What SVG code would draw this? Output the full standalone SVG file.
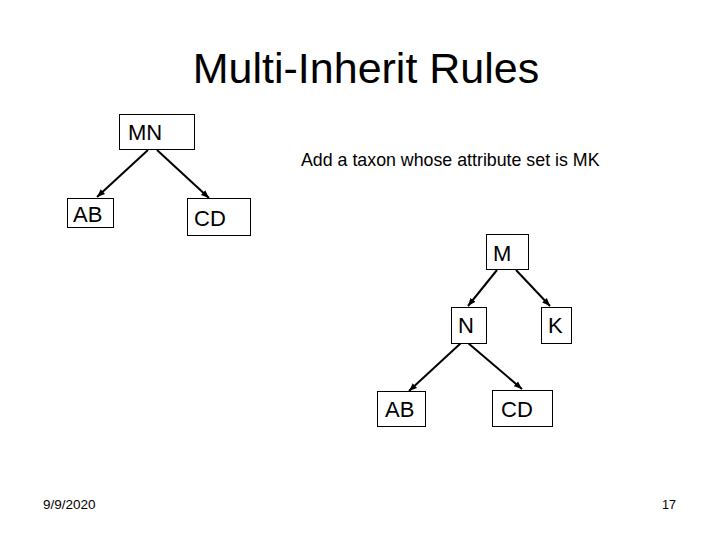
<svg xmlns="http://www.w3.org/2000/svg" width="720" height="540" viewBox="0 0 720 540">
<style>
.box{fill:#fff;stroke:#000;stroke-width:1}
.lbl{font-family:"Liberation Sans",Arial,sans-serif;font-size:22px;fill:#000}
.txt{font-family:"Liberation Sans",Arial,sans-serif;fill:#000}
.edge{stroke:#000;stroke-width:2;fill:none;marker-end:url(#ah)}
</style>
<defs>
<marker id="ah" viewBox="0 0 10 10" refX="10" refY="5" markerWidth="8" markerHeight="8" markerUnits="userSpaceOnUse" orient="auto">
<path d="M0,1 L10,5 L0,9 z" fill="#000"/>
</marker>
</defs>
<rect width="720" height="540" fill="#fff"/>
<text class="txt" x="366" y="83" font-size="43" text-anchor="middle">Multi-Inherit Rules</text>
<text class="txt" x="301" y="166" font-size="17.8">Add a taxon whose attribute set is MK</text>
<text class="txt" x="43" y="509" font-size="13.5">9/9/2020</text>
<text class="txt" x="676" y="509" font-size="12.6" text-anchor="end">17</text>
<g id="connectors">
<line class="edge" x1="148" y1="150" x2="97" y2="197"/>
<line class="edge" x1="157" y1="150" x2="209" y2="198"/>
<line class="edge" x1="497" y1="270" x2="468" y2="306"/>
<line class="edge" x1="516" y1="270" x2="550" y2="306"/>
<line class="edge" x1="461" y1="343" x2="409" y2="391"/>
<line class="edge" x1="468" y1="343" x2="522" y2="389"/>
</g>
<g id="node-MN"><rect class="box" x="119.5" y="114.5" width="75" height="35"/><text class="lbl" x="128" y="140" font-size="23">MN</text></g>
<g id="node-AB1"><rect class="box" x="67.5" y="198.5" width="46" height="29"/><text class="lbl" x="73" y="222">AB</text></g>
<g id="node-CD1"><rect class="box" x="187.5" y="198.5" width="63" height="37"/><text class="lbl" x="194" y="226" font-size="23">CD</text></g>
<g id="node-M"><rect class="box" x="486.5" y="234.5" width="42" height="35"/><text class="lbl" x="493" y="261">M</text></g>
<g id="node-N"><rect class="box" x="451.5" y="307.5" width="35" height="36"/><text class="lbl" x="458" y="333">N</text></g>
<g id="node-K"><rect class="box" x="541.5" y="307.5" width="30" height="36"/><text class="lbl" x="548" y="333">K</text></g>
<g id="node-AB2"><rect class="box" x="377.5" y="391.5" width="48" height="35"/><text class="lbl" x="385" y="417">AB</text></g>
<g id="node-CD2"><rect class="box" x="492.5" y="390.5" width="60" height="36"/><text class="lbl" x="501" y="417">CD</text></g>
</svg>
